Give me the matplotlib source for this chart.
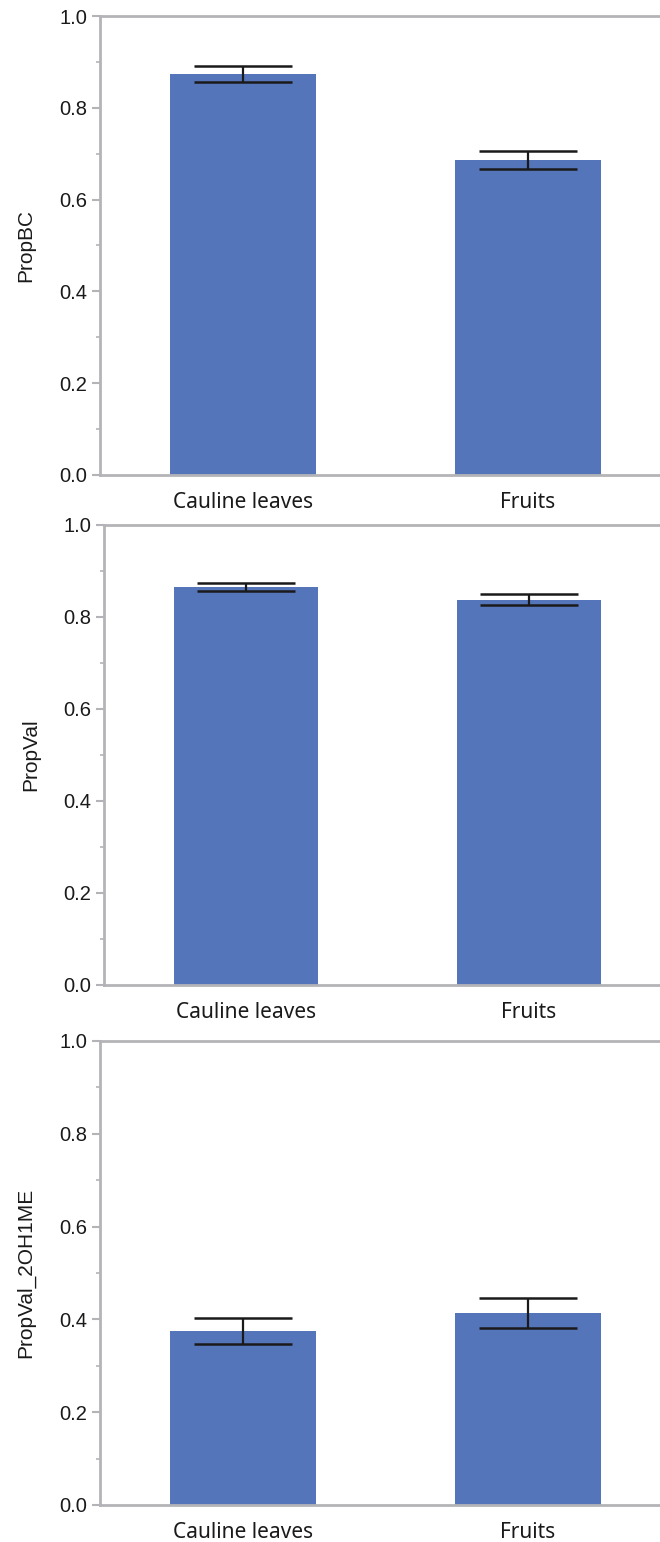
"""Three stacked bar panels: proportions in cauline leaves vs fruits."""

import matplotlib
matplotlib.use("Agg")
import matplotlib.pyplot as plt
from matplotlib.ticker import MultipleLocator

tissues = ["Cauline leaves", "Fruits"]

prop_bc = [0.874, 0.686]
prop_bc_err = [0.018, 0.020]

prop_val = [0.866, 0.838]
prop_val_err = [0.009, 0.011]

prop_val_2oh1me = [0.375, 0.414]
prop_val_2oh1me_err = [0.028, 0.032]

panels = [
    ("PropBC", prop_bc, prop_bc_err),
    ("PropVal", prop_val, prop_val_err),
    ("PropVal_2OH1ME", prop_val_2oh1me, prop_val_2oh1me_err),
]

BAR_COLOR = "#5475ba"
SPINE_COLOR = "#b4b4b8"

W, H = 660, 1542
# (left px, top px, bottom px) of each plot area
boxes = [(100, 16, 475), (104, 525, 985), (100, 1041, 1505)]

fig = plt.figure(figsize=(W / 100, H / 100), dpi=100)

for (label, means, errs), (left, top, bottom) in zip(panels, boxes):
    ax = fig.add_axes([left / W, (H - bottom) / H, (W - left) / W, (bottom - top) / H])
    xs = range(len(tissues))
    ax.bar(xs, means, width=0.512, color=BAR_COLOR, zorder=2)
    ax.errorbar(xs, means, yerr=errs, fmt="none", ecolor="#1a1a1a",
                elinewidth=1.6, capsize=35, capthick=1.8, zorder=3)

    ax.set_xlim(-0.502, 1.463)
    ax.set_ylim(0, 1.0)
    ax.yaxis.set_major_locator(MultipleLocator(0.2))
    ax.yaxis.set_minor_locator(MultipleLocator(0.1))
    ax.set_yticklabels([f"{v:.1f}" for v in ax.get_yticks()],
                       family="Liberation Sans", fontsize=14.5)
    ax.set_xticks(list(xs))
    ax.set_xticklabels(tissues, family="Noto Sans", fontsize=15)

    ax.tick_params(axis="y", which="major", length=6, width=1.5,
                   color=SPINE_COLOR, pad=3, labelcolor="#1a1a1a")
    ax.tick_params(axis="y", which="minor", length=3, width=1.2, color=SPINE_COLOR)
    ax.tick_params(axis="x", length=0, pad=12, labelcolor="#1a1a1a")

    for side in ("left", "top", "bottom"):
        ax.spines[side].set_color(SPINE_COLOR)
        ax.spines[side].set_linewidth(2)
    ax.spines["right"].set_visible(False)

    ax.set_ylabel(label, family="Liberation Sans", fontsize=15, color="#1a1a1a")
    ax.yaxis.set_label_coords(-0.115, 0.5)

fig.savefig("out.png", dpi=100)
